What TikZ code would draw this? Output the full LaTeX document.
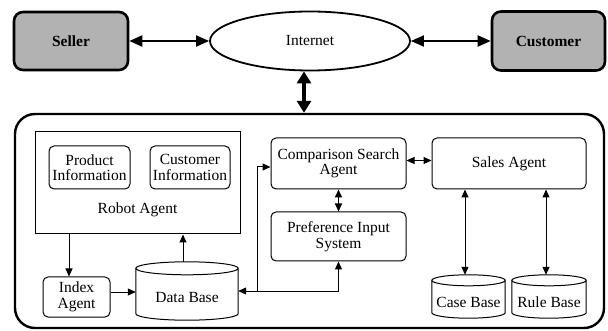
\documentclass[tikz,border=0pt]{standalone}
\usepackage{fontspec}
\setmainfont{Liberation Serif}
\usetikzlibrary{shapes.geometric,arrows.meta,calc}
\begin{document}
\begin{tikzpicture}[x=1pt,y=-1pt,
  every node/.style={font=\fontsize{15.5}{15.5}\selectfont, inner sep=0pt, align=center},
  party/.style={draw, line width=2.6pt, rounded corners=9pt, fill=black!30,
                font=\fontsize{15.5}{15.5}\selectfont\bfseries},
  net/.style={ellipse, draw, line width=1.8pt},
  sysbox/.style={draw, line width=2.4pt, rounded corners=20pt},
  plainbox/.style={draw, line width=1pt},
  rbox/.style={draw, line width=1pt, rounded corners=5pt},
  cyl/.style={draw=none},
  arr/.style={line width=1pt, -{Triangle[length=8pt,width=7pt]}},
  dbl/.style={line width=1pt, {Triangle[length=8pt,width=7pt]}-{Triangle[length=8pt,width=7pt]}},
  bigdbl/.style={line width=2pt, {Triangle[length=13pt,width=11pt]}-{Triangle[length=13pt,width=11pt]}},
  vdbl/.style={line width=3.5pt, {Triangle[length=12pt,width=14pt]}-{Triangle[length=12pt,width=14pt]}}
]
\useasboundingbox (0,0) rectangle (608,331);

% top row: parties connected through the internet
\node[party, minimum width=114pt, minimum height=58pt] (seller) at (71,41) {Seller};
\node[net, minimum width=200pt, minimum height=59pt] (internet) at (310,41) {Internet};
\node[party, minimum width=113pt, minimum height=59pt] (customer) at (548.5,41) {Customer};

% the shopping system
\node[sysbox, minimum width=589pt, minimum height=214pt] (system) at (309.5,221) {};

\node[plainbox, minimum width=205pt, minimum height=102pt] (robot) at (137.5,183) {};
\node (robotlabel) at (137.5,210) {Robot Agent};
\node[rbox, minimum width=81pt, minimum height=43pt] (product) at (89.5,167.5) {Product\\Information};
\node[rbox, minimum width=80pt, minimum height=43pt] (custinfo) at (190,167.5) {Customer\\Information};

\node[rbox, minimum width=67pt, minimum height=40pt] (index) at (76.5,297) {Index\\Agent};
\node[cyl, minimum width=102pt, minimum height=58pt] (db) at (187,291) {};
\node (dbtext) at (187,298) {Data Base};

\node[rbox, minimum width=135pt, minimum height=51pt] (csa) at (338.5,163.5) {Comparison Search\\Agent};
\node[rbox, minimum width=135pt, minimum height=49pt] (pis) at (338.5,236.5) {Preference Input\\System};
\node[rbox, minimum width=154pt, minimum height=51pt] (sales) at (509,163.5) {Sales Agent};

\node[cyl, minimum width=73pt, minimum height=43pt] (casebase) at (468.5,296.5) {};
\node (cbtext) at (468.5,302) {Case Base};
\node[cyl, minimum width=74pt, minimum height=43pt] (rulebase) at (549,296.5) {};
\node (rbtext) at (549,302) {Rule Base};

% cylinder outlines for the stores
\foreach \c/\r in {db/6.5,casebase/5.5,rulebase/5.5}{
  \draw[line width=1pt] let \p1=(\c.north west), \p2=(\c.south east), \n1={(\x2-\x1)/2} in
    (\x1,\y1-\r pt) -- (\x1,\y2+\r pt)
      arc[start angle=180, end angle=360, x radius=\n1, y radius=\r pt]
      -- (\x2,\y1-\r pt)
    (\x1+\n1,\y1-\r pt) ellipse[x radius=\n1, y radius=\r pt];
}

% connectors
\draw[bigdbl] (seller) -- (internet);
\draw[bigdbl] (internet) -- (customer);
\draw[vdbl] ([xshift=-6pt]internet.south) -- ([xshift=-6pt]internet.south |- system.north);

\draw[arr] ([xshift=-7.5pt]index.north |- robot.south) -- ([xshift=-7.5pt]index.north);
\draw[arr] ([xshift=-4pt]db.north) -- ([xshift=-4pt]db.north |- robot.south);
\draw[arr] ([yshift=5pt]index.east) -- ([yshift=5pt]index.east -| db.west);

\coordinate (j) at (pis.south |- db.east);
\coordinate (k) at ([xshift=19pt]db.east);
\draw[arr] (j) -- (db.east);
\draw[arr] (k) |- ([yshift=-3.5pt]csa.west);
\draw[arr] (j) -- (pis.south);

\draw[dbl, line width=1.6pt] (csa.south) -- (pis.north);
\draw[dbl] ([yshift=3pt]csa.east) -- ([yshift=3pt]sales.west);
\draw[dbl] ([xshift=-3.5pt]casebase.north |- sales.south) -- ([xshift=-3.5pt]casebase.north);
\draw[dbl] ([xshift=-3pt]rulebase.north |- sales.south) -- ([xshift=-3pt]rulebase.north);
\end{tikzpicture}
\end{document}
